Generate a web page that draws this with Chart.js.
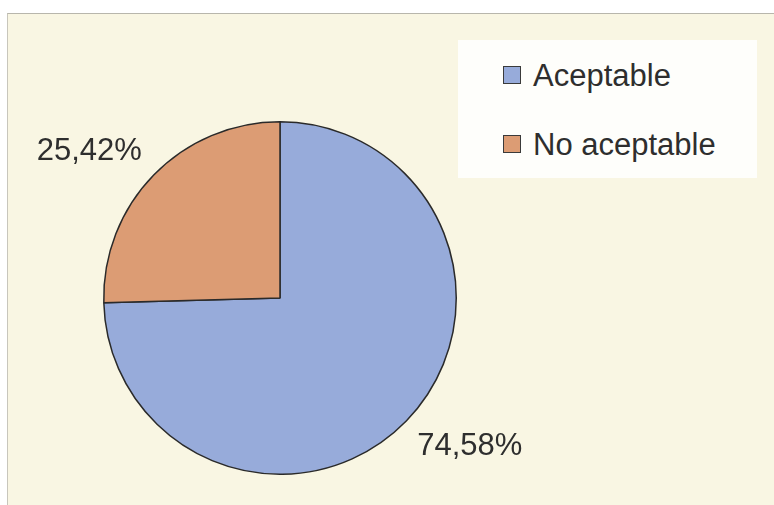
<!DOCTYPE html>
<html>
<head>
<meta charset="utf-8">
<script src="https://cdn.jsdelivr.net/npm/chart.js@4/dist/chart.umd.min.js"></script>
<style>
  body { margin: 0; background: #fff; width: 774px; height: 505px; overflow: hidden; position: relative; font-family: "Liberation Sans", Arial, sans-serif; }
  #panel { position: absolute; left: 7px; top: 13px; width: 767px; height: 492px; background: #f9f6e3; border-top: 1px solid #b8b6ac; border-left: 1px solid #c8c6bc; }
  #myChart { position: absolute; left: 0; top: 0; }
  #legend { position: absolute; left: 458px; top: 40px; width: 299px; height: 138px; background: #fefefb; }
  .item { position: absolute; left: 45px; font-size: 31px; color: #2e2e2e; line-height: 31px; }
  .box { position: absolute; left: 0; top: 6px; width: 16px; height: 16px; border: 1.5px solid #3a3a3a; }
  .item span.txt { position: absolute; left: 30px; white-space: nowrap; }
</style>
</head>
<body>
<div id="panel"></div>
<canvas id="myChart" width="774" height="505"></canvas>
<div id="legend"></div>
<script>
const categorias = ["Aceptable", "No aceptable"]
const valores = [74.58, 25.42]
const etiquetas = ["74,58%", "25,42%"]
const colores = ["#97abda", "#dc9c74"]

// leyenda a mano (caja blanca a la derecha)
const leyenda = document.getElementById("legend")
categorias.forEach(function(nombre, i){
  const it = document.createElement("div")
  it.className = "item"
  it.style.top = (20 + i * 69) + "px"
  it.innerHTML = '<div class="box" style="background:' + colores[i] + '"></div><span class="txt">' + nombre + '</span>'
  leyenda.appendChild(it)
})

// etiquetas de porcentaje fuera del pastel
const etiquetasPlugin = {
  id: "etiquetas",
  afterDatasetsDraw(chart){
    const ctx = chart.ctx
    const meta = chart.getDatasetMeta(0)
    ctx.save()
    ctx.font = "31px 'Liberation Sans', Arial, sans-serif"
    ctx.fillStyle = "#2e2e2e"
    ctx.textAlign = "center"
    ctx.textBaseline = "middle"
    meta.data.forEach(function(arc, i){
      const p = arc.getProps(["x", "y", "startAngle", "endAngle", "outerRadius"], true)
      const mid = (p.startAngle + p.endAngle) / 2
      const r = p.outerRadius * 1.11
      const ax = p.x + Math.cos(mid) * r
      const ay = p.y + Math.sin(mid) * r
      const w = ctx.measureText(etiquetas[i]).width
      const h = 22
      const cx = ax + (Math.cos(mid) < 0 ? -w / 2 + 2 : w / 2 - 3)
      const cy = ay + (Math.sin(mid) < 0 ? -h / 2 : h / 2)
      ctx.fillText(etiquetas[i], cx, cy + 1)
    })
    ctx.restore()
  }
}

const grafico = new Chart("myChart", {
  type: "pie",
  data: {
    labels: categorias,
    datasets: [{
      data: valores,
      backgroundColor: colores,
      borderColor: "#2a2a2a",
      borderWidth: 1.5
    }]
  },
  options: {
    responsive: false,
    animation: false,
    layout: { padding: { left: 103, right: 317, top: 121, bottom: 30 } },
    plugins: {
      legend: { display: false },
      tooltip: { enabled: false }
    }
  },
  plugins: [etiquetasPlugin]
})
</script>
</body>
</html>
